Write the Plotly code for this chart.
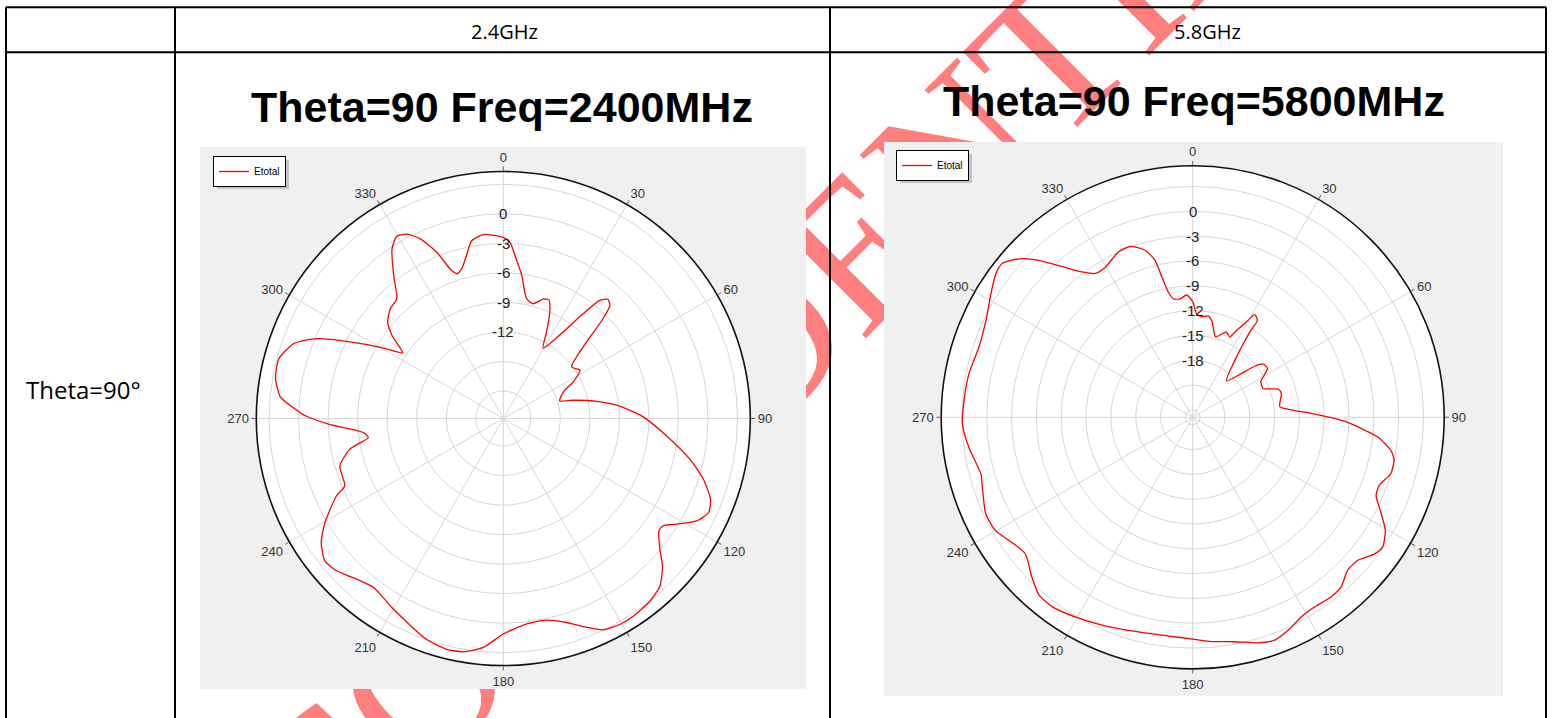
import plotly.graph_objects as go

W, H = 1552, 718

# ---------------- text content ----------------
header_labels = ["2.4GHz", "5.8GHz"]
row_label = "Theta=90°"
chart_titles = ["Theta=90 Freq=2400MHz", "Theta=90 Freq=5800MHz"]
series_name = "Etotal"
watermark_text = "CONFIDENTIAL"

# ---------------- axes ----------------
angle_ticks = [0, 30, 60, 90, 120, 150, 180, 210, 240, 270, 300, 330]
angle_labels = ["0", "30", "60", "90", "120", "150", "180", "210", "240", "270", "300", "330"]

ring_vals_24 = [-18, -15, -12, -9, -6, -3, 0, 3]
ring_text_24 = ["", "", "-12", "-9", "-6", "-3", "0", ""]
range_24 = [-20.8, 4.3]

ring_vals_58 = [-24, -21, -18, -15, -12, -9, -6, -3, 0, 3]
ring_text_58 = ["", "", "-18", "-15", "-12", "-9", "-6", "-3", "0", ""]
range_58 = [-24.9, 5.5]

# ---------------- data: 2.4 GHz (phi deg, Etotal dB) ----------------
theta_24 = [0, 2.2, 4.1, 7.3, 11.0, 14.6, 18.5, 21.1, 23.6, 26.6, 29.5, 34.7, 37.3, 39.2,
            41.3, 43.3, 45.0, 48.1, 52.9, 57.8, 62.4, 66.0, 72.7, 75.3, 79.5, 83.3, 89.0,
            96.1, 102.3, 106.9, 111.3, 114.6, 117.9, 121.4, 123.9, 125.8, 129.8, 132.8,
            136.9, 141.2, 146.6, 150.4, 154.7, 159.0, 162.8, 167.9, 173.5, 180.0, 185.0,
            189.7, 193.8, 199.2, 210.0, 217.6, 222.4, 227.6, 231.4, 235.7, 239.7, 245.1,
            247.0, 253.8, 258.7, 262.0, 264.3, 268.1, 270.8, 272.3, 275.5, 279.9, 284.9,
            289.7, 293.2, 296.6, 300.5, 303.1, 304.9, 306.7, 309.8, 314.1, 318.4, 322.5,
            326.7, 329.7, 332.4, 335.2, 338.2, 340.4, 342.2, 344.5, 347.3, 349.9, 353.8]
etotal_24 = [-2.4, -2.9, -4.2, -6.1, -8.4, -8.75, -8.0, -7.9, -9.0, -11.0, -12.6, -10.1, -7.4, -5.3,
             -4.7, -5.0, -6.5, -9.9, -12.1, -11.6, -12.8, -14.1, -14.8, -13.5, -11.2, -9.2, -6.7,
             -4.1, -1.4, 0.45, 1.8, 2.15, 1.45, -0.2, -1.25, -1.3, -0.1, 1.25,
             2.5, 3.0, 3.25, 3.25, 2.95, 1.85, 0.9, 0.15, 0.2, 1.1, 2.55,
             3.25, 3.35, 2.95, 1.55, 0.85, 1.3, 2.15, 2.4, 1.6, 0.2, -2.1,
             -3.3, -3.5, -4.9, -6.95, -6.5, -3.1, -0.7, 0.2, 1.95, 2.7, 2.8,
             1.8, -0.2, -3.4, -6.7, -8.6, -7.8, -6.7, -5.5, -4.8, -4.5, -2.5,
             -0.2, 0.65, 0.35, -0.7, -2.6, -4.65, -5.35, -5.0, -3.8, -2.45, -2.0]

# ---------------- data: 5.8 GHz ----------------
theta_58 = [0, 2.2, 5.1, 8.7, 11.4, 15.8, 19.0, 21.4, 24.8, 26.3, 29.1, 31.1, 33.7, 33.8,
            35.5, 42.8, 48.1, 50.5, 53.0, 56.8, 62.4, 67.7, 71.9, 74.9, 83.0, 85.2, 88.1,
            91.0, 92.4, 96.1, 99.5, 102.1, 105.9, 110.0, 113.1, 117.1, 120.4, 124.3, 126.9,
            130.9, 134.6, 138.8, 142.3, 147.2, 151.4, 155.8, 159.8, 163.8, 169.4, 175.2,
            180.0, 186.3, 195.0, 203.6, 210.5, 216.6, 220.9, 225.2, 230.8, 234.2, 240.2,
            245.0, 251.6, 254.9, 262.4, 268.3, 275.0, 281.1, 288.2, 295.1, 301.5, 305.8,
            308.9, 312.4, 315.1, 319.1, 322.7, 325.9, 329.8, 335.8, 339.9, 344.1, 346.5,
            347.6, 349.0, 350.8, 353.9, 357.2]
etotal_58 = [-10.9, -12.4, -12.7, -12.5, -13.1, -14.8, -14.3, -13.8, -14.2, -13.4, -11.9, -10.4, -10.8, -12.5,
             -15.4, -18.9, -17.0, -15.2, -14.2, -14.1, -15.6, -15.7, -14.0, -13.8, -14.3, -13.3, -10.6,
             -7.1, -5.7, -2.4, -0.6, 0.0, 0.0, -0.9, -0.8, 0.7, 2.1, 2.9, 2.6,
             1.5, 1.4, 2.35, 2.5, 2.35, 2.55, 3.3, 3.8, 3.5, 2.7, 2.3,
             1.9, 1.7, 1.9, 2.5, 3.1, 3.6, 3.5, 2.5, 1.2, 1.5, 2.6,
             2.7, 1.9, 1.6, 2.4, 2.95, 2.8, 2.65, 2.3, 2.7, 3.7, 4.5,
             4.7, 3.5, 1.95, -0.8, -2.8, -3.9, -3.9, -3.0, -2.9, -3.9, -5.4,
             -7.5, -9.5, -10.4, -10.5, -10.1]

# ---------------- layout helpers (page pixels -> paper) ----------------
def px(x):
    return x / W

def py(y):
    return 1 - y / H

AX_FONT = "Liberation Sans"
GRID = "#d6d6d6"

# polar disk geometry (page px): centre x, centre y, outer radius
geom_24 = (503.3, 418.5, 247.0)
geom_58 = (1192.7, 417.3, 251.5)


def polar_cfg(geom, rng, ring_vals):
    cx, cy, rad = geom
    return dict(
        domain=dict(x=[px(cx - rad), px(cx + rad)], y=[py(cy + rad), py(cy - rad)]),
        bgcolor="white",
        angularaxis=dict(
            rotation=90, direction="clockwise",
            tickmode="array", tickvals=angle_ticks, ticktext=angle_labels,
            showline=True, linecolor="#111111", linewidth=1.6,
            showgrid=True, gridcolor=GRID, gridwidth=1,
            ticks="outside", ticklen=4, tickcolor="#666666",
            tickfont=dict(family=AX_FONT, size=13, color="#333333"),
        ),
        radialaxis=dict(
            range=rng, angle=90, tickmode="array", tickvals=ring_vals,
            showticklabels=False, showline=False, ticks="",
            showgrid=True, gridcolor=GRID, gridwidth=1,
        ),
    )


def overlay_axes(geom, rng):
    """Invisible cartesian axes lying on the vertical radius, used to centre the ring labels."""
    cx, cy, rad = geom
    hidden = dict(showgrid=False, zeroline=False, showline=False, showticklabels=False,
                  ticks="", fixedrange=True)
    xa = dict(domain=[px(cx - rad), px(cx + rad)], range=[-1, 1], **hidden)
    ya = dict(domain=[py(cy), py(cy - rad)], range=rng, **hidden)
    return xa, ya


fig = go.Figure()

fig.add_trace(go.Scatterpolar(
    theta=theta_24 + [theta_24[0] + 360], r=etotal_24 + [etotal_24[0]],
    mode="lines", name=series_name, line=dict(color="#ff0000", width=1.3, shape="spline", smoothing=0.6),
    subplot="polar", legend="legend", hoverinfo="skip",
))
fig.add_trace(go.Scatterpolar(
    theta=theta_58 + [theta_58[0] + 360], r=etotal_58 + [etotal_58[0]],
    mode="lines", name=series_name, line=dict(color="#ff0000", width=1.3, shape="spline", smoothing=0.6),
    subplot="polar2", legend="legend2", hoverinfo="skip",
))

shapes = []
# watermark (behind everything, centred at page px (789, 286))
shapes.append(dict(
    type="rect", xref="paper", yref="paper", layer="below",
    x0=px(629), x1=px(949), y0=py(446), y1=py(126),
    line=dict(width=0), fillcolor="rgba(0,0,0,0)",
    label=dict(text=watermark_text, textangle=-45, textposition="middle center",
               font=dict(family="Liberation Serif", size=205, color="rgba(255,0,0,0.5)")),
))
# grey chart panels
for (x0, y0, x1, y1) in [(200, 147, 806, 689), (884, 142, 1503, 696)]:
    shapes.append(dict(type="rect", xref="paper", yref="paper", layer="below",
                       x0=px(x0), x1=px(x1), y0=py(y1), y1=py(y0),
                       line=dict(width=0), fillcolor="#f0f0f0"))
# legend shadows
for (x0, y0, x1, y1) in [(217, 160, 289, 189), (900, 154, 972, 183)]:
    shapes.append(dict(type="rect", xref="paper", yref="paper", layer="below",
                       x0=px(x0), x1=px(x1), y0=py(y1), y1=py(y0),
                       line=dict(width=0), fillcolor="#c4c4c4"))
# table rules
TOP, HEAD, LEFT, C1, C2, RIGHT = 7.3, 52.3, 6, 175, 830, 1546
for yy in (TOP, HEAD):
    shapes.append(dict(type="line", xref="paper", yref="paper", layer="above",
                       x0=px(LEFT), x1=px(RIGHT), y0=py(yy), y1=py(yy),
                       line=dict(color="black", width=2)))
for xx in (LEFT, C1, C2, RIGHT):
    shapes.append(dict(type="line", xref="paper", yref="paper", layer="above",
                       x0=px(xx), x1=px(xx), y0=py(TOP), y1=py(H + 5),
                       line=dict(color="black", width=2)))

ann = []
for txt, x in zip(header_labels, (504, 1207)):
    ann.append(dict(text=txt, x=px(x), y=py(31), xref="paper", yref="paper", showarrow=False,
                    xanchor="center", yanchor="middle",
                    font=dict(family="Open Sans", size=20, color="black")))
ann.append(dict(text=row_label, x=px(83), y=py(389), xref="paper", yref="paper", showarrow=False,
                xanchor="center", yanchor="middle",
                font=dict(family="Open Sans", size=24, color="black")))
for txt, x, y in zip(chart_titles, (502, 1193.5), (107.5, 100.5)):
    ann.append(dict(text="<b>" + txt + "</b>", x=px(x), y=py(y), xref="paper", yref="paper",
                    showarrow=False, xanchor="center", yanchor="middle",
                    font=dict(family="Liberation Sans", size=43, color="black")))

# ring (radial tick) labels, centred on the vertical radius through the overlay axes
for (xr, yr), vals, texts in [(("x", "y"), ring_vals_24, ring_text_24),
                              (("x2", "y2"), ring_vals_58, ring_text_58)]:
    for v, t in zip(vals, texts):
        if t:
            ann.append(dict(text=t, x=0, y=v, xref=xr, yref=yr, showarrow=False,
                            xanchor="center", yanchor="middle",
                            font=dict(family=AX_FONT, size=15, color="#222222")))

xa1, ya1 = overlay_axes(geom_24, range_24)
xa2, ya2 = overlay_axes(geom_58, range_58)
xa1["anchor"], ya1["anchor"] = "y", "x"
xa2["anchor"], ya2["anchor"] = "y2", "x2"

legend_common = dict(bgcolor="white", bordercolor="black", borderwidth=1,
                     font=dict(family="Liberation Sans", size=10, color="black"),
                     xanchor="left", yanchor="top", itemwidth=30, tracegroupgap=0)

fig.update_layout(
    width=W, height=H, autosize=False,
    margin=dict(l=0, r=0, t=0, b=0),
    paper_bgcolor="white",
    plot_bgcolor="rgba(0,0,0,0)",
    showlegend=True,
    polar=polar_cfg(geom_24, range_24, ring_vals_24),
    polar2=polar_cfg(geom_58, range_58, ring_vals_58),
    xaxis=xa1, yaxis=ya1, xaxis2=xa2, yaxis2=ya2,
    legend=dict(x=px(213), y=py(156), **legend_common),
    legend2=dict(x=px(896), y=py(150), **legend_common),
    shapes=shapes,
    annotations=ann,
)

fig.write_html(
    "out.html",
    config={"displayModeBar": False},
    post_script="document.body.style.margin='0px';document.body.style.overflow='hidden';",
)
